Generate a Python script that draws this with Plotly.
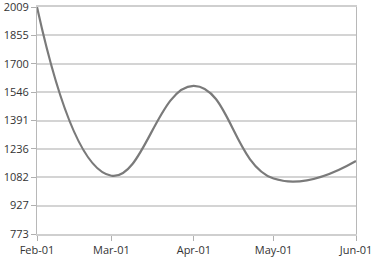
import plotly.graph_objects as go

dates = ["2021-02-01", "2021-03-01", "2021-04-01", "2021-05-01", "2021-06-01"]
values = [2009, 1090, 1580, 1075, 1171]

y_tickvals = [773, 927.5, 1082, 1236.5, 1391, 1545.5, 1700, 1854.5, 2009]
y_ticktext = ["773", "927", "1082", "1236", "1391", "1546", "1700", "1855", "2009"]
x_tickvals = dates
x_ticktext = ["Feb-01", "Mar-01", "Apr-01", "May-01", "Jun-01"]

fig = go.Figure()
fig.add_trace(go.Scatter(
    x=dates, y=values, mode="lines",
    line=dict(color="#7a7a7a", width=2.2, shape="spline", smoothing=1.3),
    showlegend=False, hoverinfo="x+y",
))

font = dict(family="Open Sans, Noto Sans, sans-serif", size=11, color="#333333")
fig.update_layout(
    width=377, height=271,
    margin=dict(l=37, r=21, t=7, b=37),
    paper_bgcolor="white", plot_bgcolor="white",
    font=font,
    xaxis=dict(
        type="date", range=[dates[0], dates[-1]], automargin=False,
        tickvals=x_tickvals, ticktext=x_ticktext, ticklabeloverflow="allow",
        showgrid=False, zeroline=False,
        showline=True, linecolor="#cfcfcf", linewidth=1.5, mirror=True,
        ticks="outside", ticklen=5, tickcolor="#b0b0b0", tickwidth=1,
        tickfont=font,
    ),
    yaxis=dict(
        range=[773, 2009], automargin=False,
        tickvals=y_tickvals, ticktext=y_ticktext, ticklabeloverflow="allow",
        showgrid=True, gridcolor="#d4d4d4", gridwidth=1.5, zeroline=False,
        showline=True, linecolor="#b8b8b8", linewidth=1, mirror=True,
        ticks="outside", ticklen=5, tickcolor="#b0b0b0", tickwidth=1,
        tickfont=font,
    ),
)

fig.write_html("out.html")
